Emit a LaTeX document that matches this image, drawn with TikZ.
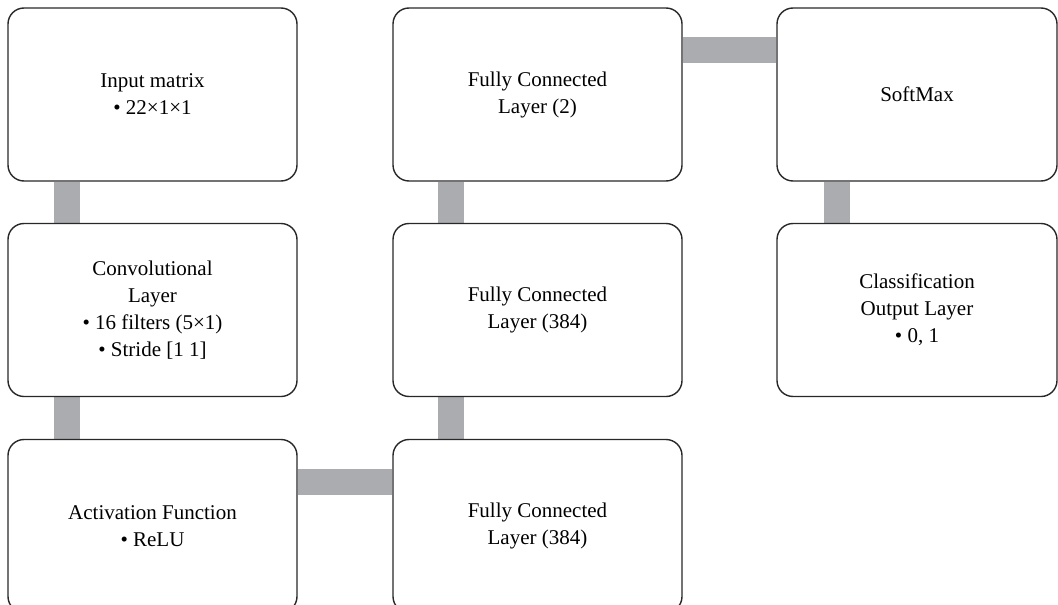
\documentclass[tikz,border=0pt]{standalone}
\usepackage{fontspec}
\setmainfont{Liberation Serif}
\usetikzlibrary{backgrounds}
\definecolor{barcol}{RGB}{171,172,176}
\definecolor{edgecol}{RGB}{40,40,40}
\begin{document}
\begin{tikzpicture}[x=1pt,y=-1pt,
  box/.style={draw=edgecol, line width=1.4pt, rounded corners=16pt, fill=white,
    minimum width=289pt, minimum height=173pt, inner sep=0pt, align=center,
    font=\fontsize{21}{27}\selectfont},
  narrowbox/.style={box, minimum width=280pt},
  bar/.style={draw=barcol, line width=26pt}]
\clip (0,0) rectangle (1058,605);
\node[box] (b1) at (152.5,94.5) {Input matrix\\• 22×1×1};
\node[box] (b2) at (152.5,310) {Convolutional\\Layer\\• 16 filters (5×1)\\• Stride [1 1]};
\node[box] (b3) at (152.5,526) {Activation Function\\• ReLU};
\node[box] (b4) at (537.5,94.5) {Fully Connected\\Layer (2)};
\node[box] (b5) at (537.5,310) {Fully Connected\\Layer (384)};
\node[box] (b6) at (537.5,526) {Fully Connected\\Layer (384)};
\node[narrowbox] (b7) at (917,94.5) {SoftMax};
\node[narrowbox] (b8) at (917,310) {Classification\\Output Layer\\• 0, 1};
\begin{pgfonlayer}{background}
\fill[white] (0,0) rectangle (1058,605);
\draw[bar] ([xshift=-86pt]b1.south) -- ([xshift=-86pt]b2.north);
\draw[bar] ([xshift=-86pt]b2.south) -- ([xshift=-86pt]b3.north);
\draw[bar] ([yshift=44.5pt]b3.east) -- ([yshift=44.5pt]b6.west);
\draw[bar] ([xshift=-86.5pt]b6.north) -- ([xshift=-86.5pt]b5.south);
\draw[bar] ([xshift=-86.5pt]b5.north) -- ([xshift=-86.5pt]b4.south);
\draw[bar] ([yshift=44.5pt]b4.east) -- ([yshift=44.5pt]b7.west);
\draw[bar] ([xshift=-80.5pt]b7.south) -- ([xshift=-80.5pt]b8.north);
\end{pgfonlayer}
\end{tikzpicture}
\end{document}
